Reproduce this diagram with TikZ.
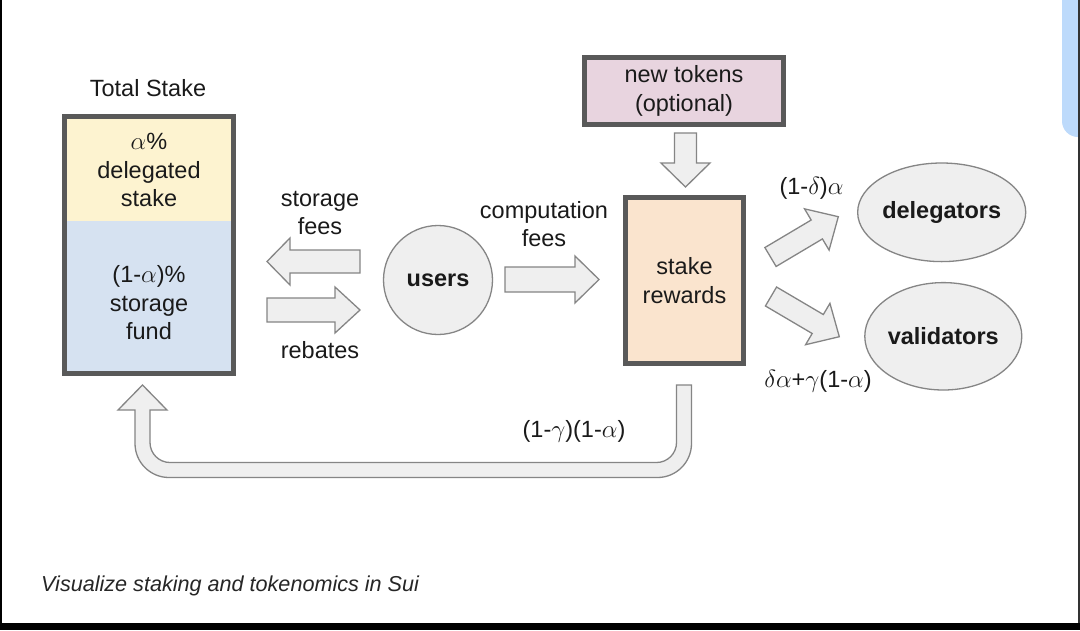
\documentclass[tikz,border=0pt]{standalone}
\usepackage{fontspec}
\setmainfont{Liberation Sans}
\usetikzlibrary{calc,shapes.geometric}
\definecolor{boxborder}{HTML}{595959}
\definecolor{stakeyellow}{HTML}{FDF3D0}
\definecolor{fundblue}{HTML}{D6E2F1}
\definecolor{peach}{HTML}{FAE4CE}
\definecolor{pinkbox}{HTML}{E8D4DF}
\definecolor{lightfill}{HTML}{EFEFEF}
\definecolor{grayline}{HTML}{858585}
\definecolor{topblue}{HTML}{BDDAFB}
\definecolor{txt}{HTML}{1A1A1A}
\tikzset{
  lbl/.style={font=\fontsize{23.5}{28.5}\selectfont, align=center, inner sep=0pt, text=txt},
  heavybox/.style={draw=boxborder, line width=5pt, inner sep=0pt, font=\fontsize{23.5}{28.5}\selectfont, align=center, text=txt},
  softshape/.style={draw=grayline, fill=lightfill, line width=1.3pt, inner sep=0pt, font=\fontsize{23.5}{28.5}\selectfont\bfseries, text=txt},
  blockarr/.style={draw=grayline, fill=lightfill, line width=1.3pt, line join=miter}
}
\newcommand\blockarrow[6]{%
  \coordinate (#1b) at ($(#3)!#6!(#2)$);
  \draw[blockarr] ($(#2)!#4!90:(#3)$) -- ($(#1b)!#4!-90:(#2)$) -- ($(#1b)!#5!-90:(#2)$) -- (#3)
     -- ($(#1b)!#5!90:(#2)$) -- ($(#1b)!#4!90:(#2)$) -- ($(#2)!#4!-90:(#3)$) -- cycle;
}
\begin{document}
\begin{tikzpicture}[x=1pt,y=1pt]
\fill[white] (0,0) rectangle (1080,-630);
\useasboundingbox (0,0) rectangle (1080,-630);

% screen frame
\fill[black] (0,0) rectangle (1.5,-630);
\fill[black] (0,-623) rectangle (1080,-630);
\fill[topblue] (1062,0) -- (1062,-121) arc[start angle=180,end angle=270,radius=16] -- (1080,-137) -- (1080,0) -- cycle;
\draw[line width=1.5pt, color=black!80] (1079,0) -- (1079,-623);

% total stake
\node[lbl] (ttl) at (148,-88) {Total Stake};
\node[fill=stakeyellow, minimum width=169, minimum height=104.5, inner sep=0pt] (deleg) at (149,-168.75) {};
\node[fill=fundblue, minimum width=169, minimum height=152.5, inner sep=0pt] (fund) at (149,-297.25) {};
\draw[draw=boxborder, line width=5pt] (deleg.north west) rectangle (fund.south east);
\node[lbl] (delegtxt) at (149,-170) {$\alpha$\%\\delegated\\stake};
\node[lbl] (fundtxt) at (149,-303) {(1-$\alpha$)\%\\storage\\fund};

% users
\node[softshape, circle, minimum size=109] (users) at (438,-280) {users};

% stake rewards and new tokens
\node[heavybox, fill=peach, minimum width=118, minimum height=166] (rewards) at (684.5,-280.5) {stake\\rewards};
\node[heavybox, fill=pinkbox, minimum width=199, minimum height=67] (newtok) at (684,-91) {new tokens\\(optional)};

% delegators, validators
\node[softshape, ellipse, minimum width=146.6, minimum height=98.6] (dlg) at (941.7,-212.3) {delegators};
\node[softshape, ellipse, minimum width=146.6, minimum height=107.4] (vld) at (943.3,-336.3) {validators};

% block arrows
\coordinate (sfT) at (360,-261.5); \coordinate (sfP) at (267,-261.5);
\blockarrow{sf}{sfT}{sfP}{11.5pt}{23.5pt}{23pt}
\coordinate (rbT) at (267,-310); \coordinate (rbP) at (360,-310);
\blockarrow{rb}{rbT}{rbP}{12pt}{23pt}{25pt}
\coordinate (cfT) at (505,-279.5); \coordinate (cfP) at (599,-279.5);
\blockarrow{cf}{cfT}{cfP}{12.5pt}{23.5pt}{24pt}
\coordinate (ntT) at (685.5,-133); \coordinate (ntP) at (685.5,-187);
\blockarrow{nt}{ntT}{ntP}{11pt}{24.5pt}{24pt}
\coordinate (dlT) at (770.5,-257); \coordinate (dlP) at (838.3,-216.7);
\blockarrow{dl}{dlT}{dlP}{11pt}{24pt}{25pt}
\coordinate (vlT) at (771,-296.5); \coordinate (vlP) at (839.3,-336.7);
\blockarrow{vl}{vlT}{vlP}{11pt}{24pt}{25pt}

% return U-arrow
\draw[blockarr] (691.5,-385) -- (691.5,-443.5) arc[start angle=0,end angle=-90,radius=34]
  -- (169,-477.5) arc[start angle=270,end angle=180,radius=34]
  -- (135,-410) -- (118,-410) -- (142.5,-385) -- (167,-410) -- (150,-410)
  -- (150,-442.5) arc[start angle=180,end angle=270,radius=20]
  -- (656.5,-462.5) arc[start angle=-90,end angle=0,radius=20]
  -- (676.5,-385) -- cycle;

% labels
\node[lbl] (sfees) at (320,-213) {storage\\fees};
\node[lbl] (reb) at (320,-350) {rebates};
\node[lbl] (cfees) at (544,-224) {computation\\fees};
\node[lbl] (dlab) at (811.5,-188) {(1-$\delta$)$\alpha$};
\node[lbl] (vlab) at (818,-381.5) {$\delta\alpha$+$\gamma$(1-$\alpha$)};
\node[lbl] (ulab) at (574,-431) {(1-$\gamma$)(1-$\alpha$)};

% caption
\node[font=\fontsize{21.6}{26}\selectfont\itshape, anchor=west, inner sep=0pt, text=black!85] (cap) at (41,-586) {Visualize staking and tokenomics in Sui};
\end{tikzpicture}
\end{document}
